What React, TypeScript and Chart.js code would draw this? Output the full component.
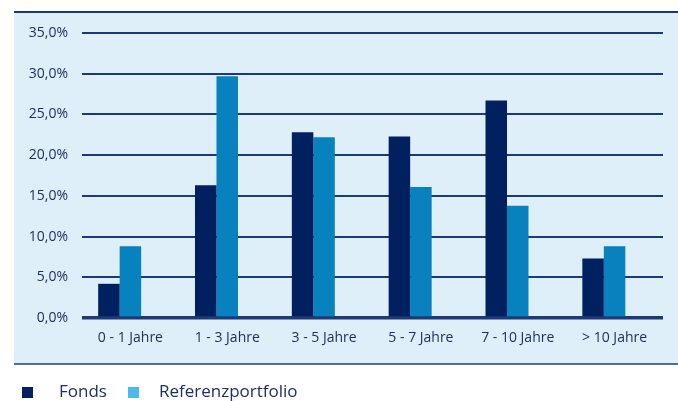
import React, { useEffect, useRef } from "react";
import { Chart, registerables } from "chart.js";

Chart.register(...registerables);

const categories = ["0 - 1 Jahre", "1 - 3 Jahre", "3 - 5 Jahre", "5 - 7 Jahre", "7 - 10 Jahre", "> 10 Jahre"];
const fondsValues = [4.2, 16.3, 22.8, 22.3, 26.7, 7.3];
const referenzValues = [8.8, 29.7, 22.2, 16.1, 13.8, 8.8];
const emptySeries = [null, null, null, null, null, null];
const yTicks = [0, 5, 10, 15, 20, 25, 30, 35];

const NAVY = "#002060";
const CYAN = "#0782be";
const CYAN_LEGEND = "#4bb9eb";
const TEXT = "#1c3064";
const GRID = "#1c3a78";
const PANEL = "#dfeff9";
const FONT = "'Open Sans', sans-serif";

const panelPlugin = {
  id: "panel",
  beforeDraw(chart: any) {
    const { ctx, width } = chart;
    ctx.save();
    ctx.fillStyle = PANEL;
    ctx.fillRect(14, 12, width - 14, 352);
    ctx.strokeStyle = GRID;
    ctx.lineWidth = 2;
    ctx.beginPath();
    ctx.moveTo(14, 12);
    ctx.lineTo(width, 12);
    ctx.stroke();
    ctx.lineWidth = 1.5;
    ctx.beginPath();
    ctx.moveTo(14, 364);
    ctx.lineTo(width, 364);
    ctx.stroke();
    ctx.restore();
  },
};

export default function App() {
  const ref = useRef<HTMLCanvasElement>(null);
  useEffect(() => {
    if (!ref.current) return;
    const chart = new Chart(ref.current, {
      type: "bar",
      data: {
        labels: categories,
        datasets: [
          { label: "Fonds", data: fondsValues, backgroundColor: NAVY, borderWidth: 0 },
          { label: "Referenzportfolio", data: referenzValues, backgroundColor: CYAN, borderWidth: 0 },
          { label: "", data: emptySeries as any, backgroundColor: "transparent", borderWidth: 0 },
        ],
      },
      options: {
        animation: false,
        responsive: false,
        events: [],
        layout: { padding: { left: 0, right: 15, top: 33, bottom: 0 } },
        datasets: { bar: { categoryPercentage: 0.666, barPercentage: 1 } },
        plugins: { legend: { display: false }, tooltip: { enabled: false } },
        scales: {
          x: {
            grid: { display: false, drawTicks: false },
            border: { display: false },
            ticks: { color: TEXT, font: { family: FONT, size: 14 }, padding: 12, maxRotation: 0 },
            afterFit(scale: any) {
              scale.height = 83;
            },
          },
          y: {
            min: 0,
            max: 35,
            afterBuildTicks(scale: any) {
              scale.ticks = yTicks.map((v) => ({ value: v }));
            },
            grid: {
              drawTicks: false,
              color: GRID,
              lineWidth: (c: any) => (c.tick && c.tick.value === 0 ? 3.5 : 2),
            },
            border: { display: false },
            ticks: {
              color: TEXT,
              font: { family: FONT, size: 14 },
              padding: 14,
              callback: (v: any) => Number(v).toFixed(1).replace(".", ",") + "%",
            },
            afterFit(scale: any) {
              scale.width = 82;
            },
          },
        },
      },
      plugins: [panelPlugin],
    });
    return () => chart.destroy();
  }, []);

  const legendText: React.CSSProperties = {
    position: "absolute",
    top: 379,
    fontFamily: FONT,
    fontSize: 17,
    color: TEXT,
    lineHeight: "normal",
    whiteSpace: "nowrap",
  };
  const sq = (left: number, color: string): React.CSSProperties => ({
    position: "absolute",
    left,
    top: 387,
    width: 11,
    height: 11,
    background: color,
  });

  return (
    <div style={{ position: "absolute", left: 0, top: 0, width: 678, height: 401, overflow: "hidden", background: "#fff" }}>
      <canvas ref={ref} width={678} height={401} style={{ display: "block" }} />
      <div style={sq(22, NAVY)} />
      <span style={{ ...legendText, left: 59 }}>Fonds</span>
      <div style={sq(128, CYAN_LEGEND)} />
      <span style={{ ...legendText, left: 159 }}>Referenzportfolio</span>
    </div>
  );
}
